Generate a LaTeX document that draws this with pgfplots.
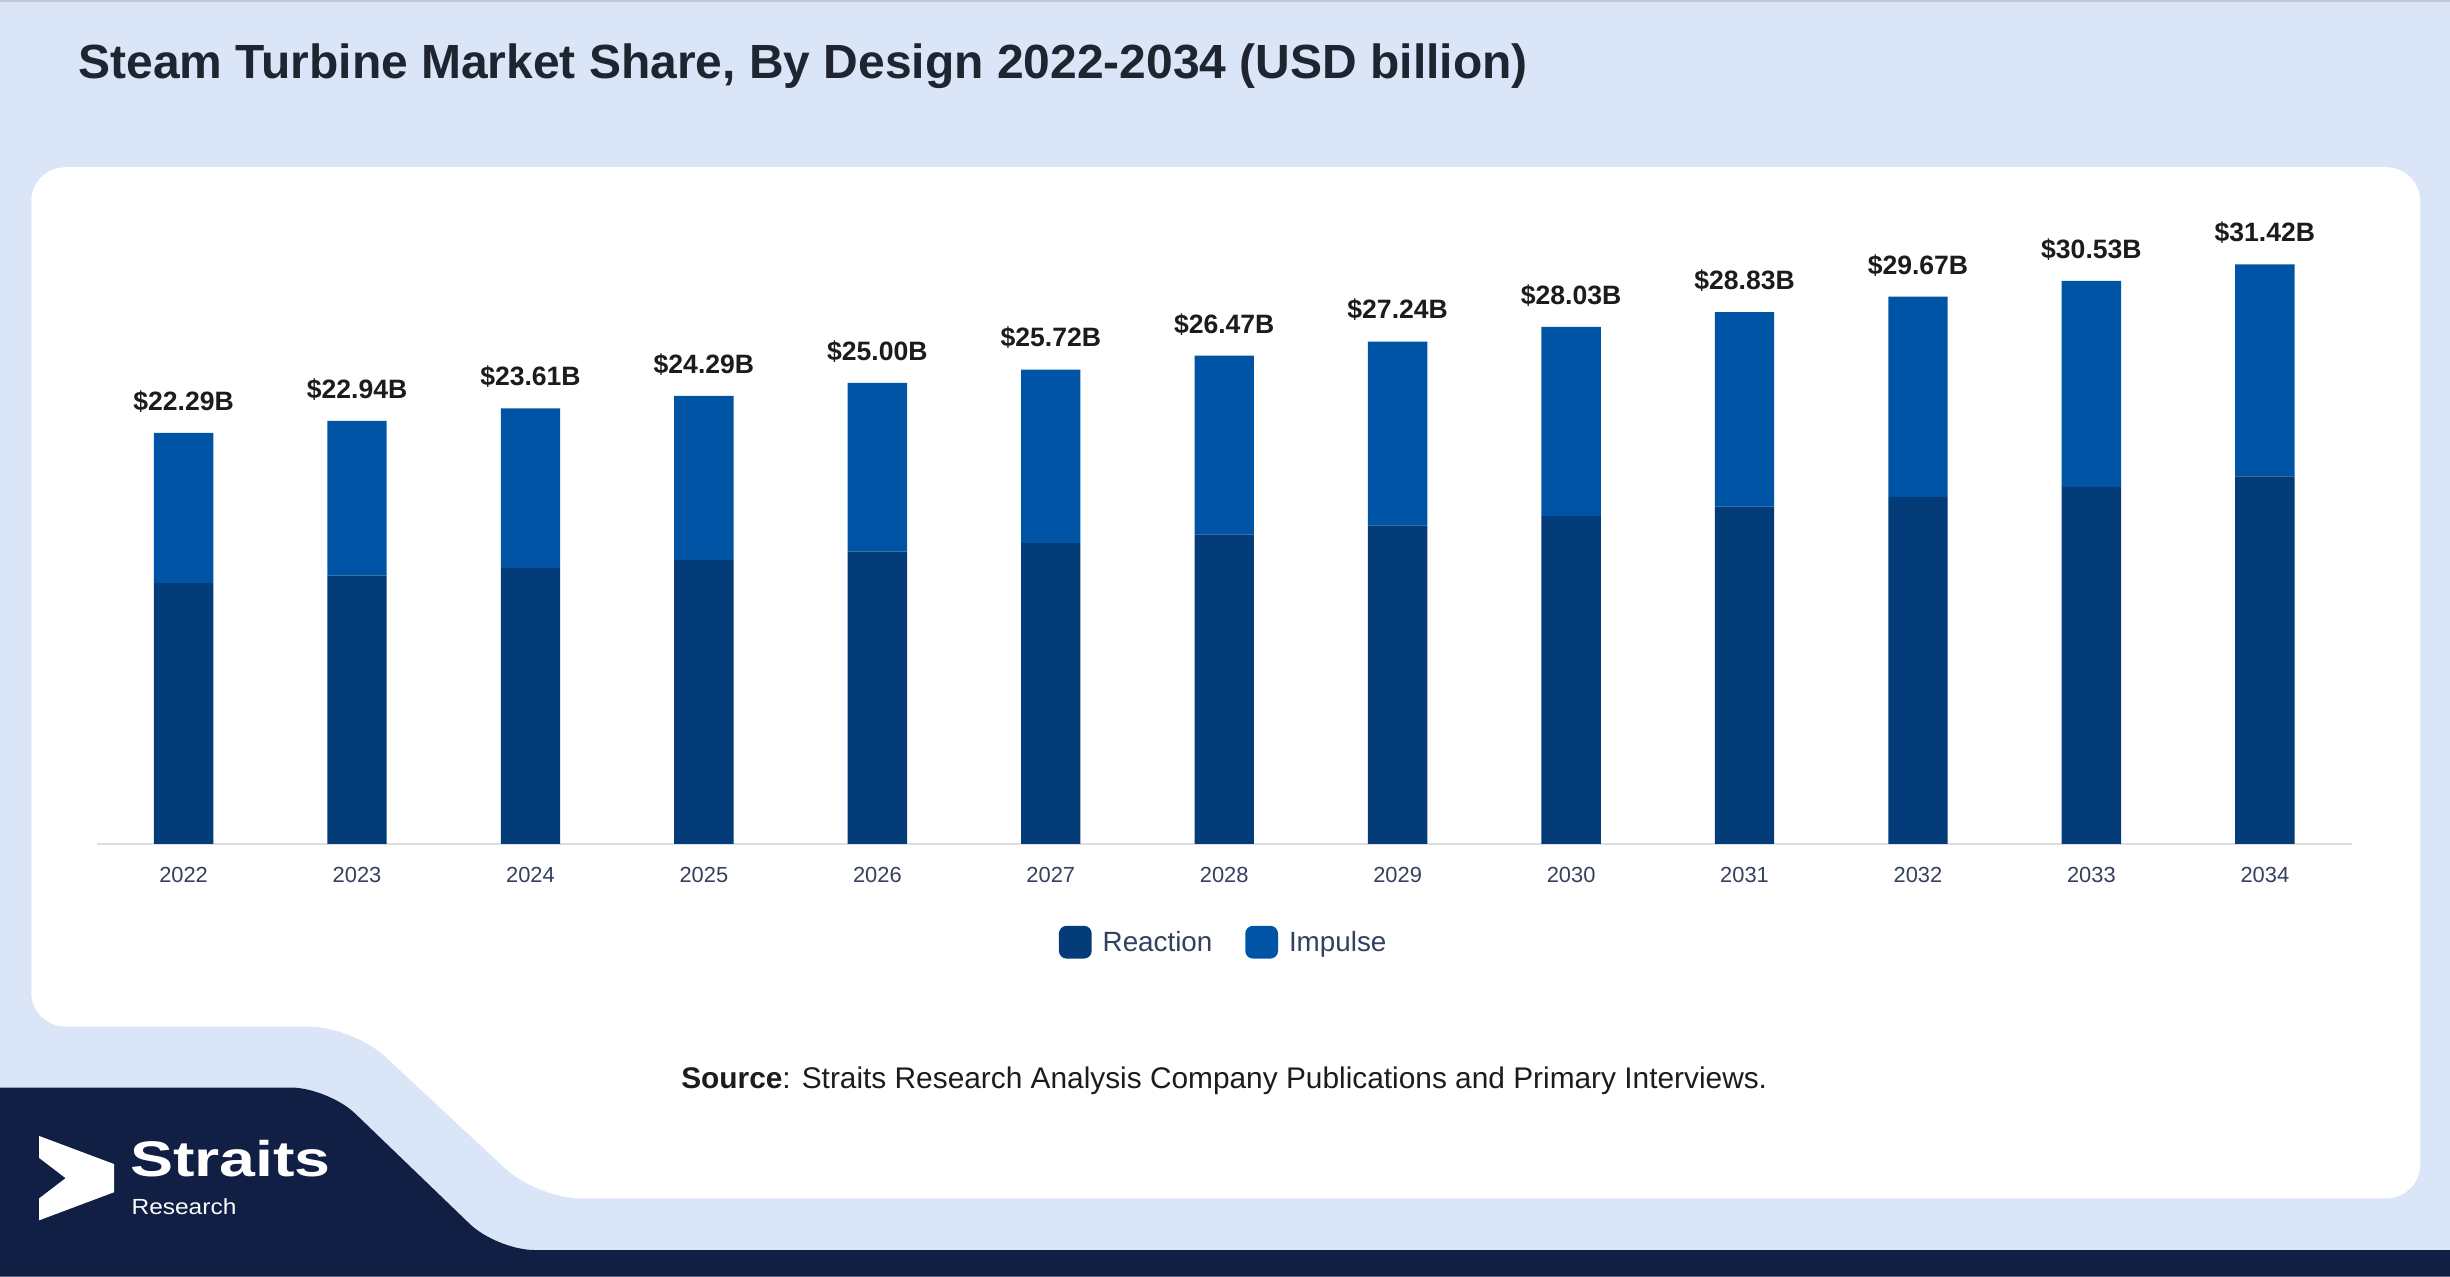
\documentclass[border=0pt]{standalone}
\usepackage{fontspec}
\setmainfont{Liberation Sans}
\usepackage{pgfplots}
\usepackage{pgfplotstable}
\pgfplotsset{compat=1.18}
\usepackage{graphicx}
\definecolor{bgblue}{HTML}{DAE6F8}
\definecolor{navy}{HTML}{111F45}
\definecolor{reactc}{HTML}{033C78}
\definecolor{impc}{HTML}{0054A6}
\definecolor{titlec}{HTML}{1F2530}
\definecolor{tickc}{HTML}{33405E}
\definecolor{labc}{HTML}{1C1C1C}

\pgfplotstableread{
x react imp total
0  14.13 8.16  22.29
1  14.54 8.40  22.94
2  14.97 8.64  23.61
3  15.40 8.89  24.29
4  15.85 9.15  25.00
5  16.31 9.41  25.72
6  16.78 9.69  26.47
7  17.27 9.97  27.24
8  17.77 10.26 28.03
9  18.28 10.55 28.83
10 18.81 10.86 29.67
11 19.36 11.17 30.53
12 19.92 11.50 31.42
}\datatable

\pgfplotsset{commonaxis/.style={
  at={(62pt,-540pt)}, anchor=south west,
  scale only axis, width=1443pt, height=424.8pt,
  xmin=-0.5, xmax=12.5, ymin=0, ymax=36,
  bar width=38pt, clip=false}}

\begin{document}
\begin{tikzpicture}
\useasboundingbox (0pt,0pt) rectangle (1568pt,-817pt);
\fill[bgblue] (0pt,0pt) rectangle (1568pt,-817pt);
\draw[color=bgblue!70!gray, line width=1.5pt] (0pt,-0.75pt) -- (1568pt,-0.75pt);
% white panel
\fill[white] (120pt,-107pt) [rounded corners=22pt] -- (1549pt,-107pt) -- (1549pt,-767pt) [rounded corners=28pt] -- (344pt,-767pt) -- (226pt,-657pt) [rounded corners=22pt] -- (20pt,-657pt) -- (20pt,-107pt) -- (120pt,-107pt);
% navy band
\fill[navy] (0pt,-696pt) [rounded corners=24pt] -- (210pt,-696pt) -- (318pt,-800pt) [sharp corners] -- (1568pt,-800pt) -- (1568pt,-817pt) -- (0pt,-817pt) -- cycle;
% logo
\fill[white] (25pt,-727pt) -- (73pt,-745pt) -- (73pt,-763pt) -- (25pt,-781pt) -- (25pt,-767pt) -- (42pt,-754pt) -- (25pt,-741pt) -- cycle;
\node[anchor=base west, inner sep=0pt, text=white] at (83pt,-753pt) {\scalebox{1.29}[1]{\fontsize{32}{36}\selectfont\bfseries Straits}};
\node[anchor=base west, inner sep=0pt, text=white!90!bgblue] at (84pt,-777pt) {\scalebox{1.12}[1]{\fontsize{14}{16}\selectfont Research}};
% title
\node[anchor=base west, inner sep=0pt, text=titlec] at (50pt,-50pt) {\fontsize{30.7}{34}\selectfont\bfseries Steam Turbine Market Share, By Design 2022-2034 (USD billion)};
% source
\node[anchor=base, inner sep=0pt, text=labc] at (783.5pt,-696.5pt) {\fontsize{19.1}{22}\selectfont\textbf{Source}: Straits Research Analysis Company Publications and Primary Interviews.};

\begin{axis}[
  commonaxis,
  axis y line=none, axis x line*=bottom,
  x axis line style={draw=black!13, line width=1pt, -},
  xtick={0,...,12},
  xticklabels={2022,2023,2024,2025,2026,2027,2028,2029,2030,2031,2032,2033,2034},
  major tick length=0pt,
  xticklabel style={anchor=base, yshift=-25pt, text=tickc, font=\fontsize{14}{16}\selectfont},
  /pgf/number format/assume math mode=true,
  ytick=\empty,
  ybar stacked,
  legend columns=2,
  legend style={at={(rel axis cs:0.5,0)}, anchor=center, yshift=-63pt,
    draw=none, fill=none, text=tickc, font=\fontsize{17.8}{20}\selectfont,
    /tikz/every even column/.append style={column sep=19pt}},
]
\addplot[fill=reactc, draw=none,
  legend image code/.code={\fill[reactc, rounded corners=5pt] (0pt,-10.5pt) rectangle (21pt,10.5pt); \path (26pt,0pt);}]
  table[x=x, y=react] {\datatable};
\addlegendentry{Reaction}
\addplot[fill=impc, draw=none,
  legend image code/.code={\fill[impc, rounded corners=5pt] (0pt,-10.5pt) rectangle (21pt,10.5pt); \path (26pt,0pt);}]
  table[x=x, y=imp] {\datatable};
\addlegendentry{Impulse}
\end{axis}

\begin{axis}[
  commonaxis, hide axis, ybar,
]
\addplot[fill=none, draw=none,
  point meta=explicit symbolic,
  nodes near coords={\$\pgfplotspointmeta B},
  every node near coord/.append style={anchor=base, yshift=14.5pt, inner sep=0pt, text=labc, font=\fontsize{17}{20}\selectfont\bfseries}]
  table[x=x, y=total, meta=total] {\datatable};
\end{axis}
\end{tikzpicture}
\end{document}
